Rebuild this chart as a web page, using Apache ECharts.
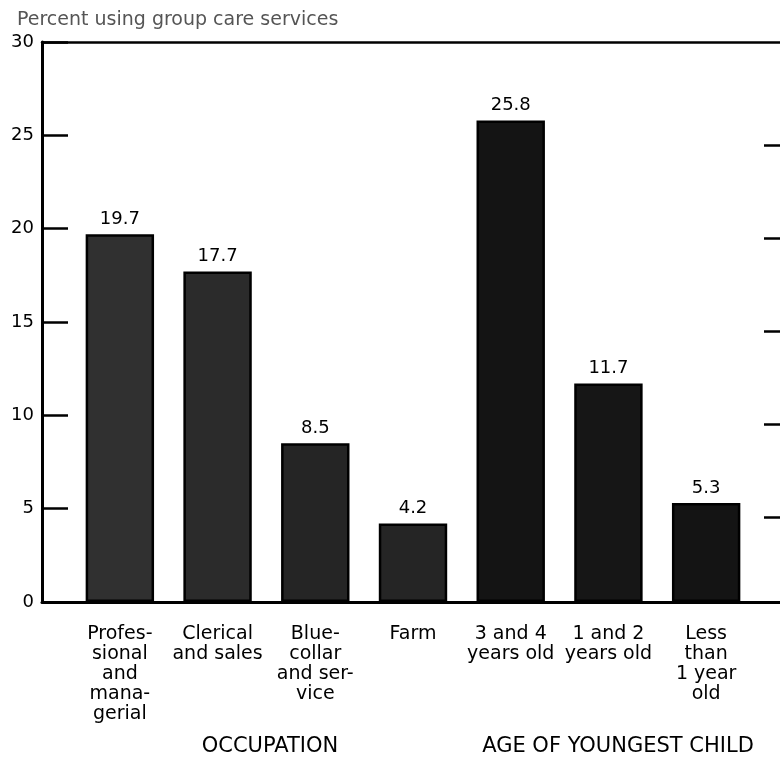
<!DOCTYPE html>
<html>
<head>
<meta charset="utf-8">
<script src="https://cdn.jsdelivr.net/npm/echarts@6/dist/echarts.min.js"></script>
<style>
  html, body { margin: 0; padding: 0; background: #fff; }
  #chart { width: 780px; height: 758px; }
</style>
</head>
<body>
<div id="chart"></div>
<script>
// ---- data ----
var categories = [
  'Profes-\nsional\nand\nmana-\ngerial',
  'Clerical\nand sales',
  'Blue-\ncollar\nand ser-\nvice',
  'Farm',
  '3 and 4\nyears old',
  '1 and 2\nyears old',
  'Less\nthan\n1 year\nold'
];
var values = [19.7, 17.7, 8.5, 4.2, 25.8, 11.7, 5.3];
var barShades = ['#303030', '#2b2b2b', '#252525', '#252525', '#141414', '#161616', '#141414'];
var yTicks = [0, 5, 10, 15, 20, 25, 30];
var groupLabels = ['OCCUPATION', 'AGE OF YOUNGEST CHILD'];
var titleText = 'Percent using group care services';

var FONT = 'DejaVu Sans';
var chart = echarts.init(document.getElementById('chart'), null, { renderer: 'canvas' });

var option = {
  animation: false,
  backgroundColor: '#fff',
  textStyle: { fontFamily: FONT },
  title: {
    text: titleText,
    left: 12, top: 6,
    textStyle: { fontFamily: FONT, fontSize: 19, fontWeight: 'normal', color: '#555' }
  },
  grid: [
    { left: 42, right: 0, top: 42, bottom: 156 },          // frame
    { left: 71, right: 25, top: 42, bottom: 156 },         // bars
    { left: 42, right: 0, top: 145, height: 372 }          // right-edge ticks
  ],
  xAxis: [
    { type: 'value', gridIndex: 0, min: 0, max: 1, position: 'bottom',
      axisLine: { show: true, onZero: false, lineStyle: { color: '#000', width: 3 } },
      axisTick: { show: false }, axisLabel: { show: false }, splitLine: { show: false } },
    { type: 'value', gridIndex: 0, min: 0, max: 1, position: 'top',
      axisLine: { show: true, onZero: false, lineStyle: { color: '#000', width: 2.5 } },
      axisTick: { show: false }, axisLabel: { show: false }, splitLine: { show: false } },
    { type: 'category', gridIndex: 1, data: categories,
      axisLine: { show: false, onZero: false }, axisTick: { show: false }, splitLine: { show: false },
      axisLabel: { interval: 0, margin: 22, fontFamily: FONT, fontSize: 19, lineHeight: 20, color: '#000', align: 'center' } },
    { type: 'value', gridIndex: 2, min: 0, max: 1, show: false }
  ],
  yAxis: [
    { type: 'value', gridIndex: 0, min: 0, max: 30, interval: 5, position: 'left',
      axisLine: { show: true, onZero: false, lineStyle: { color: '#000', width: 3 } },
      axisTick: { show: true, inside: true, length: 26, lineStyle: { color: '#000', width: 2.5 } },
      axisLabel: { show: true, margin: 8, fontFamily: FONT, fontSize: 18, color: '#000',
        formatter: function (v) { return yTicks.indexOf(v) >= 0 ? String(v) : ''; } },
      splitLine: { show: false } },
    { type: 'value', gridIndex: 1, min: 0, max: 30, interval: 5, show: false },
    { type: 'value', gridIndex: 2, min: 5, max: 25, interval: 5, position: 'right',
      axisLine: { show: false, onZero: false },
      axisTick: { show: true, inside: true, length: 16, lineStyle: { color: '#000', width: 2.5 } },
      axisLabel: { show: false }, splitLine: { show: false } }
  ],
  series: [{
    type: 'bar',
    xAxisIndex: 2, yAxisIndex: 1,
    barWidth: '70%',
    data: values.map(function (v, i) {
      return { value: v, itemStyle: { color: barShades[i] } };
    }),
    itemStyle: { borderColor: '#000', borderWidth: 2.5 },
    label: { show: true, position: 'top', distance: 6, fontFamily: FONT, fontSize: 18, color: '#000',
      formatter: function (p) { return p.value.toFixed(1); } }
  }],
  graphic: [
    { type: 'text', x: 270, y: 747,
      style: { text: groupLabels[0], fontFamily: FONT, fontSize: 21, fill: '#000',
               textAlign: 'center', textVerticalAlign: 'middle' } },
    { type: 'text', x: 618, y: 747,
      style: { text: groupLabels[1], fontFamily: FONT, fontSize: 21, fill: '#000',
               textAlign: 'center', textVerticalAlign: 'middle' } }
  ]
};
chart.setOption(option);
</script>
</body>
</html>
